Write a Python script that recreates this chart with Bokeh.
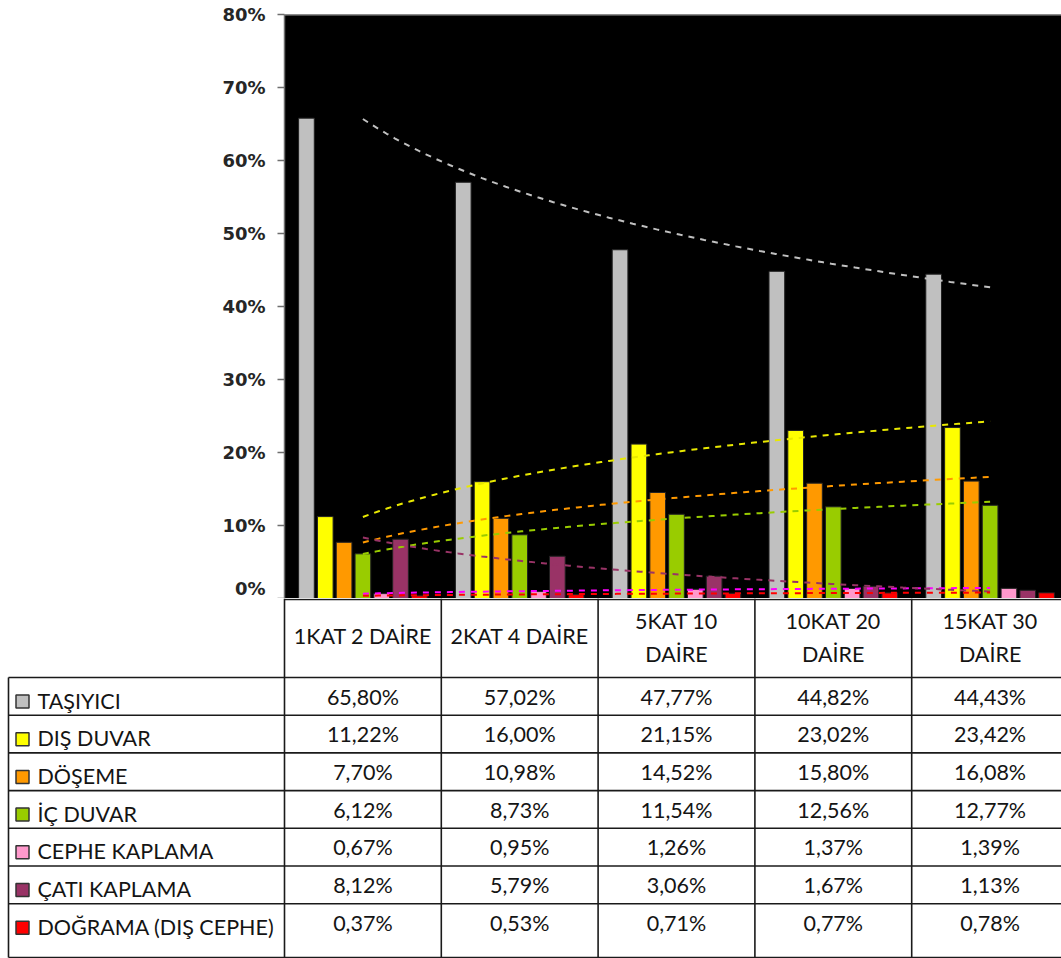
import numpy as np
from bokeh.plotting import figure
from bokeh.layouts import column
from bokeh.models import Range1d, FixedTicker, PrintfTickFormatter, Span
from bokeh.core.properties import value
from bokeh.embed import file_html
from bokeh.resources import INLINE

# ---- data -----------------------------------------------------------------
categories = ["1KAT 2 DAİRE", "2KAT 4 DAİRE", "5KAT 10\nDAİRE", "10KAT 20\nDAİRE", "15KAT 30\nDAİRE"]
series_names = ["TAŞIYICI", "DIŞ DUVAR", "DÖŞEME", "İÇ DUVAR",
                "CEPHE KAPLAMA", "ÇATI KAPLAMA", "DOĞRAMA (DIŞ CEPHE)"]
tasiyici = [65.80, 57.02, 47.77, 44.82, 44.43]
dis_duvar = [11.22, 16.00, 21.15, 23.02, 23.42]
doseme = [7.70, 10.98, 14.52, 15.80, 16.08]
ic_duvar = [6.12, 8.73, 11.54, 12.56, 12.77]
cephe_kaplama = [0.67, 0.95, 1.26, 1.37, 1.39]
cati_kaplama = [8.12, 5.79, 3.06, 1.67, 1.13]
dograma = [0.37, 0.53, 0.71, 0.77, 0.78]
y_ticks = [0, 10, 20, 30, 40, 50, 60, 70, 80]

series_values = [tasiyici, dis_duvar, doseme, ic_duvar, cephe_kaplama, cati_kaplama, dograma]
bar_colors = ["#C0C0C0", "#FFFF00", "#FF9900", "#99CC00", "#FF99CC", "#993366", "#FF0000"]
trend_colors = ["#C0C0C0", "#E8E800", "#FF9900", "#99CC00", "#FF00FF", "#993366", "#FF0000"]

# ---- layout constants (pixels) -------------------------------------------
W = 1061
CHART_H = 598
TABLE_H = 360
FRAME_LEFT = 284
CAT_W = 156.8                      # pixel width of one category column
X_END = (W - FRAME_LEFT) / CAT_W   # visible end of the category axis

def px(xp):
    """pixel x (page) -> category units"""
    return (xp - FRAME_LEFT) / CAT_W

n_cat = len(categories)
n_ser = len(series_values)
BAR_STEP = 0.12
BAR_W = 0.10

# ---- chart ---------------------------------------------------------------
p = figure(width=W, height=CHART_H, x_range=Range1d(0, X_END), y_range=Range1d(0, 80),
           output_backend="svg", toolbar_location=None, x_axis_type=None,
           min_border_left=FRAME_LEFT, min_border_right=0, min_border_top=14,
           min_border_bottom=0, background_fill_color="black",
           border_fill_color="white", outline_line_color=None, frame_align=False)
p.grid.visible = False

for k, (vals, col) in enumerate(zip(series_values, bar_colors)):
    xs = [i + 0.5 + (k - (n_ser - 1) / 2) * BAR_STEP for i in range(n_cat)]
    p.vbar(x=xs, top=vals, bottom=0, width=BAR_W, fill_color=col,
           line_color="#222222", line_width=1)

# logarithmic trend lines, one per series
lnx = np.log(np.arange(1, n_cat + 1))
xt = np.linspace(1, n_cat, 80)
for vals, col in zip(series_values, trend_colors):
    a, b = np.polyfit(lnx, np.array(vals), 1)
    p.line(xt - 0.5, a * np.log(xt) + b, line_color=col, line_width=2, line_dash="6 6")

p.add_layout(Span(location=80, dimension="width", line_color="#9A9A9A", line_width=2))

ax = p.yaxis[0]
ax.ticker = FixedTicker(ticks=y_ticks)
ax.formatter = PrintfTickFormatter(format="%d%%")
ax.minor_tick_line_color = None
ax.major_tick_in = 0
ax.major_tick_out = 7
ax.major_tick_line_color = "#6E6E6E"
ax.axis_line_color = "#6E6E6E"
ax.axis_line_width = 1.5
ax.major_tick_line_width = 1.5
ax.major_label_standoff = 12
ax.major_label_text_font = "DejaVu Sans"
ax.major_label_text_font_style = "bold"
ax.major_label_text_font_size = "18px"
ax.major_label_text_color = "#262626"

# ---- data table ----------------------------------------------------------
t = figure(width=W, height=TABLE_H, x_range=Range1d(px(0), X_END), y_range=Range1d(TABLE_H, 0),
           output_backend="svg", toolbar_location=None, x_axis_type=None, y_axis_type=None,
           min_border_left=0, min_border_right=0, min_border_top=0, min_border_bottom=0,
           background_fill_color="white", border_fill_color="white", outline_line_color=None,
           frame_align=False)
t.grid.visible = False

HEADER_H = 79
ROW_H = 37.7
BOTTOM = 359
row_tops = [HEADER_H + r * ROW_H for r in range(n_ser)]
left_x = px(8)

x0, y0, x1, y1 = [], [], [], []
# top rule of the category header
x0.append(0); y0.append(1); x1.append(X_END); y1.append(1)
# row rules
for yt in row_tops + [BOTTOM]:
    x0.append(left_x); y0.append(yt); x1.append(X_END); y1.append(yt)
# column rules
x0.append(left_x); y0.append(HEADER_H); x1.append(left_x); y1.append(BOTTOM)
for i in range(n_cat):
    x0.append(i); y0.append(0); x1.append(i); y1.append(BOTTOM)
t.segment(x0=x0, y0=y0, x1=x1, y1=y1, line_color="#1A1A1A", line_width=1.6)

FONT = value("Lato")
FS = "21.5px"
TXT_COL = "#141414"

# category headers
hx, hy, ht = [], [], []
for i, cat in enumerate(categories):
    lines = cat.split("\n")
    if len(lines) == 1:
        hx.append(i + 0.5); hy.append(37); ht.append(lines[0])
    else:
        for j, ln in enumerate(lines):
            hx.append(i + 0.5); hy.append(22 + j * 33); ht.append(ln)
t.text(x=hx, y=hy, text=ht, text_font=FONT, text_font_size=FS, text_color=TXT_COL,
       text_align="center", text_baseline="middle")

# values
vx, vy, vt = [], [], []
for r, vals in enumerate(series_values):
    for i, v in enumerate(vals):
        vx.append(i + 0.5); vy.append(row_tops[r] + 19)
        vt.append(f"{v:.2f}%".replace(".", ","))
t.text(x=vx, y=vy, text=vt, text_font=FONT, text_font_size=FS, text_color=TXT_COL,
       text_align="center", text_baseline="middle")

# legend keys and series names
t.scatter(x=[px(22)] * n_ser, y=[rt + 24 for rt in row_tops], marker="square", size=13,
          fill_color=bar_colors, line_color="#333333", line_width=1.5)
t.text(x=[px(37)] * n_ser, y=[rt + 23 for rt in row_tops], text=series_names, text_font=FONT,
       text_font_size=FS, text_color=TXT_COL, text_align="left", text_baseline="middle")

layout = column(p, t, spacing=0)
open("out.html", "w").write(file_html(layout, INLINE))
